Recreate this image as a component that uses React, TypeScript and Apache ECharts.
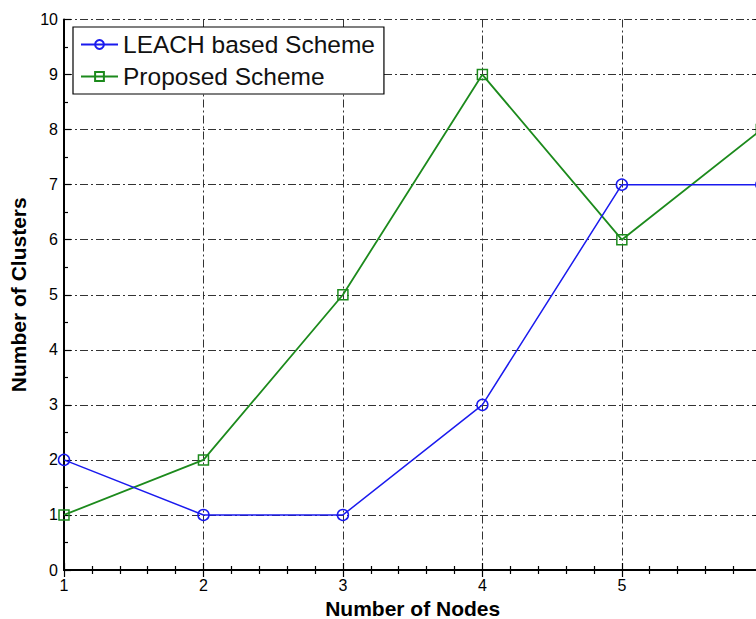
import React, { useEffect, useRef } from "react";
import * as echarts from "echarts";

const nodes = [1, 2, 3, 4, 5, 6];
const leachValues = [2, 1, 1, 3, 7, 7];
const proposedValues = [1, 2, 5, 9, 6, 8];
const seriesNames = ["LEACH based Scheme", "Proposed Scheme"];
const xAxisName = "Number of Nodes";
const yAxisName = "Number of Clusters";

const FONT = "'Liberation Sans', Arial, sans-serif";
const BLUE = "#1a1aee";
const GREEN = "#1c8a1c";
const GRID_DASH = [8, 3, 2, 3];

export default function App() {
  const ref = useRef<HTMLDivElement>(null);
  useEffect(() => {
    if (!ref.current) return;
    const chart = echarts.init(ref.current, null, { renderer: "svg" });
    const frameLine = { show: true, lineStyle: { color: "#000", width: 2 } };
    const xCommon = {
      type: "value",
      min: 1,
      max: 6,
      interval: 1,
      axisLine: frameLine,
      axisTick: { show: true, inside: true, length: 7, lineStyle: { color: "#000", width: 1.2 } },
      minorTick: { show: true, splitNumber: 5, length: 4, lineStyle: { color: "#000", width: 1.2 } },
    };
    const yCommon = {
      type: "value",
      min: 0,
      max: 10,
      interval: 1,
      axisLine: frameLine,
      axisTick: { show: true, inside: true, length: 7, lineStyle: { color: "#000", width: 1.2 } },
      minorTick: { show: true, splitNumber: 2, length: 4, lineStyle: { color: "#000", width: 1.2 } },
    };
    chart.setOption({
      animation: false,
      backgroundColor: "#fff",
      grid: {
        left: 64,
        right: -5.3,
        top: 19.5,
        bottom: 49,
        containLabel: false,
        outerBoundsMode: "none",
      },
      legend: {
        orient: "vertical",
        left: 73,
        top: 27,
        padding: [5, 9, 5, 7],
        itemGap: 7,
        itemWidth: 37,
        itemHeight: 11,
        borderColor: "#000",
        borderWidth: 1.2,
        backgroundColor: "#fff",
        textStyle: { fontSize: 24.5, color: "#111", fontFamily: FONT, padding: [0, 0, 0, 0] },
        data: seriesNames,
      },
      xAxis: [
        {
          ...xCommon,
          position: "bottom",
          name: xAxisName,
          nameLocation: "middle",
          nameGap: 22,
          nameTextStyle: { fontSize: 21, fontWeight: "bold", color: "#000", fontFamily: FONT, lineHeight: 22 },
          axisLabel: { show: true, fontSize: 16, color: "#000", fontFamily: FONT, margin: 7, showMaxLabel: false },
          splitLine: { show: true, lineStyle: { color: "#333", width: 1, type: GRID_DASH } },
        },
        {
          ...xCommon,
          position: "top",
          axisLabel: { show: false },
          splitLine: { show: false },
        },
      ],
      yAxis: [
        {
          ...yCommon,
          position: "left",
          name: yAxisName,
          nameLocation: "middle",
          nameGap: 32,
          nameTextStyle: { fontSize: 21, fontWeight: "bold", color: "#000", fontFamily: FONT },
          axisLabel: { show: true, fontSize: 16, color: "#000", fontFamily: FONT, margin: 6 },
          splitLine: { show: true, lineStyle: { color: "#333", width: 1, type: GRID_DASH } },
        },
        {
          ...yCommon,
          position: "right",
          axisLabel: { show: false },
          splitLine: { show: false },
        },
      ],
      series: [
        {
          name: seriesNames[0],
          type: "line",
          xAxisIndex: 0,
          yAxisIndex: 0,
          data: nodes.map((n, i) => [n, leachValues[i]]),
          symbol: "circle",
          symbolSize: 11,
          lineStyle: { color: BLUE, width: 1.5 },
          itemStyle: { color: "rgba(255,255,255,0)", borderColor: BLUE, borderWidth: 1.5 },
          clip: false,
          z: 3,
        },
        {
          name: seriesNames[1],
          type: "line",
          xAxisIndex: 0,
          yAxisIndex: 0,
          data: nodes.map((n, i) => [n, proposedValues[i]]),
          symbol: "rect",
          symbolSize: 10,
          lineStyle: { color: GREEN, width: 1.8 },
          itemStyle: { color: "rgba(255,255,255,0)", borderColor: GREEN, borderWidth: 1.5 },
          clip: false,
          z: 2,
        },
      ],
    });
    return () => chart.dispose();
  }, []);
  return (
    <div
      ref={ref}
      style={{ position: "fixed", left: 0, top: 0, width: 756, height: 619 }}
    />
  );
}
